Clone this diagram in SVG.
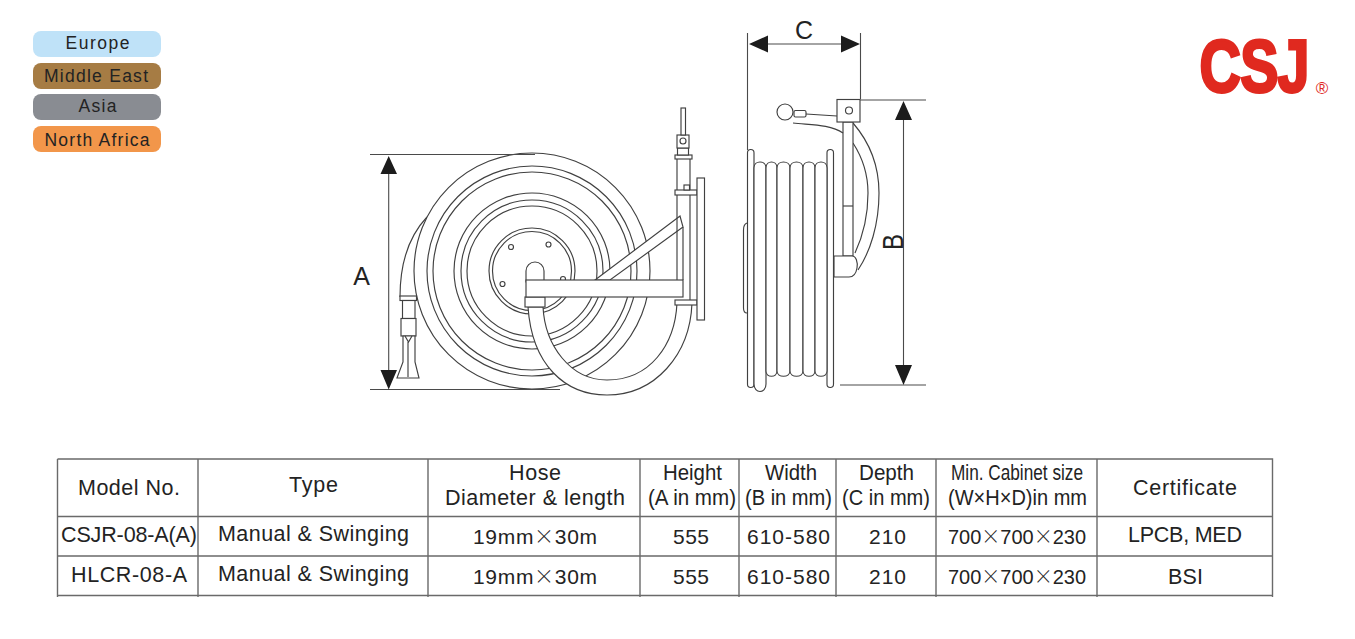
<svg xmlns="http://www.w3.org/2000/svg" width="1355" height="639" viewBox="0 0 1355 639">
<style>
text{font-family:"Liberation Sans",Arial,sans-serif;fill:#232323}
.t{font-size:21.5px;text-anchor:middle}
.n{font-size:21px;text-anchor:middle}
.l{font-size:17.5px;text-anchor:middle}
.x{font-family:"Noto Sans CJK SC",sans-serif;font-weight:200;font-size:20px}
.d{font-size:25px;text-anchor:middle}
.g{fill:none;stroke:#404040;stroke-width:1.150}
.w{fill:#fff;stroke:#404040;stroke-width:1.150}
.k{fill:none;stroke:#4a4a4a;stroke-width:1.100}
.a{fill:#1c1c1c;stroke:none}
.r{fill:none;stroke:#6a6a6a;stroke-width:1.400}
.c{fill:#e0291f;stroke:#e0291f}
</style>
<rect width="1355" height="639" fill="#fff"/>
<g id="legend">
<rect x="33" y="31" width="128" height="26" rx="8" fill="#bfe2f8"/>
<rect x="33" y="63" width="128" height="26" rx="8" fill="#a67c44"/>
<rect x="33" y="94" width="128" height="26" rx="8" fill="#898c92"/>
<rect x="33" y="126" width="128" height="26" rx="8" fill="#f2964a"/>
<text class="l" x="97.500" y="49" textLength="64">Europe</text>
<text class="l" x="96" y="81.500" textLength="104">Middle East</text>
<text class="l" x="97.500" y="112" textLength="38">Asia</text>
<text class="l" x="97" y="145.500" textLength="105">North Africa</text>
</g>
<g id="logo">
<text class="c" transform="translate(1199.500 91.500) scale(.775 1)" font-size="74" font-weight="700" stroke-width="3" letter-spacing="-1" style="fill:#e0291f">CSJ</text>
<text x="1322" y="94" font-size="17" text-anchor="middle" style="fill:#e0291f">®</text>
</g>
<g id="side-view-front">
<path class="g" d="M400 297C400 262 410 235 427 217"/>
<circle class="w" cx="532" cy="271" r="118"/>
<circle class="g" cx="532" cy="271" r="105"/>
<circle class="g" cx="532" cy="271" r="99"/>
<circle class="g" cx="532" cy="271" r="78"/>
<circle class="g" cx="532" cy="271" r="71"/>
<circle class="g" cx="532" cy="271" r="65"/>
<circle class="g" cx="532" cy="271" r="43"/>
<circle class="g" cx="532" cy="271" r="39.500"/>
<circle class="g" cx="511" cy="247" r="2.500"/><circle class="g" cx="548.500" cy="244.500" r="2.500"/>
<circle class="g" cx="502.500" cy="284" r="2.500"/><circle class="g" cx="563" cy="279" r="2.500"/>
<path class="w" d="M526 282V271A9 9 0 0 1 544 271V282Z"/>
<path class="w" d="M595 280L680 216L683 227L610 280Z"/>
<path class="w" d="M528 307C532 365 565 395 607 395C655 395 690 355 692 303H677C675 345 650 380 607 380C570 380 545 345 543 307Z"/>
<rect class="w" x="525" y="297" width="20" height="10"/>
<rect class="w" x="526" y="280" width="157" height="17"/>
<path class="g" d="M677 158V280M690 158V190M683 227V280M690 195V300"/>
<rect class="w" x="675" y="190" width="22" height="5"/>
<rect class="w" x="684" y="185" width="5.500" height="5"/>
<rect class="w" x="675" y="300" width="22" height="5"/>
<rect class="w" x="697" y="178" width="7.500" height="142"/>
<rect class="w" x="675" y="155" width="17" height="4"/>
<rect class="w" x="677.500" y="148" width="11" height="7"/>
<rect class="w" x="677" y="135" width="12" height="13"/>
<circle class="g" cx="683" cy="141" r="3"/>
<rect class="w" x="681" y="108" width="4.500" height="27"/>
<rect class="w" x="400" y="296" width="16.500" height="4.500"/>
<rect class="w" x="402.500" y="300.500" width="12.500" height="18"/>
<rect class="w" x="401" y="318.500" width="15" height="17.500"/>
<path class="w" d="M403 336V362L397 378H419L415 362V336Z"/>
<path class="g" d="M405 336L408.500 342L412 336M408 342V377"/>
</g>
<g id="side-view-profile">
<path class="w" d="M747 223C744 224 743.500 226 743.500 230V308C743.500 311 745 313 747 313"/>
<rect class="w" x="747.500" y="149.500" width="6.500" height="238" rx="3.200"/>
<rect class="w" x="827" y="149.500" width="6.500" height="238" rx="3.200"/>
<path class="w" d="M754 168C754 160 766 160 766 168V384C766 394 754 394 754 384Z"/>
<path class="w" d="M766 168C766 160 777 160 777 168V371C777 378 766 378 766 371Z"/>
<path class="w" d="M777 168C777 160 790 160 790 168V371C790 378 777 378 777 371Z"/>
<path class="w" d="M790 168C790 160 803 160 803 168V371C803 378 790 378 790 371Z"/>
<path class="w" d="M803 168C803 160 815 160 815 168V371C815 378 803 378 803 371Z"/>
<path class="w" d="M815 168C815 160 827 160 827 168V371C827 378 815 378 815 371Z"/>
<path class="g" d="M853 123C872 145 879 170 879 193C879 225 870 252 858 270M853 143C864 160 868 175 868 193C868 218 862 238 855 253"/>
<rect class="w" x="843" y="122" width="10" height="134"/>
<path class="g" d="M843 206H853"/>
<path class="w" d="M834 256H852C856 256 858 262 857 268C856 274 853 277 849 277H834Z"/>
<circle class="w" cx="785" cy="112" r="8"/>
<rect class="w" x="794" y="110.500" width="12" height="6.500" rx="1.500"/>
<path class="g" d="M806 114L837 116M793 123C810 125 830 124 843 133"/>
<rect class="w" x="837" y="99.500" width="23" height="22.500" stroke-width="1.500"/>
<circle class="g" cx="849" cy="110.500" r="3.500"/>
</g>
<g id="dimensions">
<path class="k" d="M370 154.500H535M370 389.500H560M388.700 174V370"/>
<path class="a" d="M388.700 156L397 174H380.500ZM388.700 389.500L380.500 370H397Z"/>
<text class="d" x="361.500" y="285">A</text>
<path class="k" d="M747.500 33V150M860.500 33V99M768 44H841"/>
<path class="a" d="M749 44L768 35.500V52.500ZM860 44L841 35.500V52.500Z"/>
<text class="d" x="804" y="38.500">C</text>
<path class="k" d="M860 100H926M840 385H926M903.500 120V365"/>
<path class="a" d="M903.500 101L912 120H895ZM903.500 385L895 365H912Z"/>
<text transform="translate(903 250) rotate(-90) scale(1 1.200)" font-size="24">B</text>
</g>
<g id="table">
<path class="r" d="M57.500 459H1272.500V597M57.500 459V597M198 459V597M428 459V597M640 459V597M739 459V597M836 459V597M936 459V597M1097 459V597M57.500 516.500H1272.500M57.500 556H1272.500M57.500 595.500H1272.500"/>
<text class="t" x="129" y="495" textLength="102">Model No.</text>
<text class="t" x="313.500" y="492" textLength="49">Type</text>
<text class="t" x="535" y="480" textLength="52">Hose</text>
<text class="t" x="535" y="505" textLength="180">Diameter &amp; length</text>
<text class="t" x="692.500" y="480" textLength="59" lengthAdjust="spacingAndGlyphs">Height</text>
<text class="t" x="692" y="505" textLength="88" lengthAdjust="spacingAndGlyphs">(A in mm)</text>
<text class="t" x="791" y="480" textLength="52" lengthAdjust="spacingAndGlyphs">Width</text>
<text class="t" x="788.500" y="505" textLength="87" lengthAdjust="spacingAndGlyphs">(B in mm)</text>
<text class="t" x="886.500" y="480" textLength="55" lengthAdjust="spacingAndGlyphs">Depth</text>
<text class="t" x="886" y="505" textLength="88" lengthAdjust="spacingAndGlyphs">(C in mm)</text>
<text class="t" x="1017" y="480" textLength="132" lengthAdjust="spacingAndGlyphs">Min. Cabinet size</text>
<text class="t" x="1017.500" y="505" textLength="139" lengthAdjust="spacingAndGlyphs">(W×H×D)in mm</text>
<text class="t" x="1185" y="495" textLength="104">Certificate</text>
<text class="t" x="129" y="542" textLength="136">CSJR-08-A(A)</text>
<text class="t" x="313.500" y="541" textLength="191">Manual &amp; Swinging</text>
<text class="n" x="535" y="544" textLength="124">19mm<tspan class="x">×</tspan>30m</text>
<text class="n" x="691" y="544" textLength="36">555</text>
<text class="n" x="788.500" y="544" textLength="83">610-580</text>
<text class="n" x="887.500" y="544" textLength="37">210</text>
<text class="n" x="1017" y="544" textLength="138" lengthAdjust="spacingAndGlyphs">700<tspan class="x">×</tspan>700<tspan class="x">×</tspan>230</text>
<text class="t" x="1185" y="542" textLength="114">LPCB, MED</text>
<text class="t" x="129" y="582" textLength="116">HLCR-08-A</text>
<text class="t" x="313.500" y="581" textLength="191">Manual &amp; Swinging</text>
<text class="n" x="535" y="584" textLength="124">19mm<tspan class="x">×</tspan>30m</text>
<text class="n" x="691" y="584" textLength="36">555</text>
<text class="n" x="788.500" y="584" textLength="83">610-580</text>
<text class="n" x="887.500" y="584" textLength="37">210</text>
<text class="n" x="1017" y="584" textLength="138" lengthAdjust="spacingAndGlyphs">700<tspan class="x">×</tspan>700<tspan class="x">×</tspan>230</text>
<text class="t" x="1185.500" y="584" textLength="35">BSI</text>
</g>
</svg>
